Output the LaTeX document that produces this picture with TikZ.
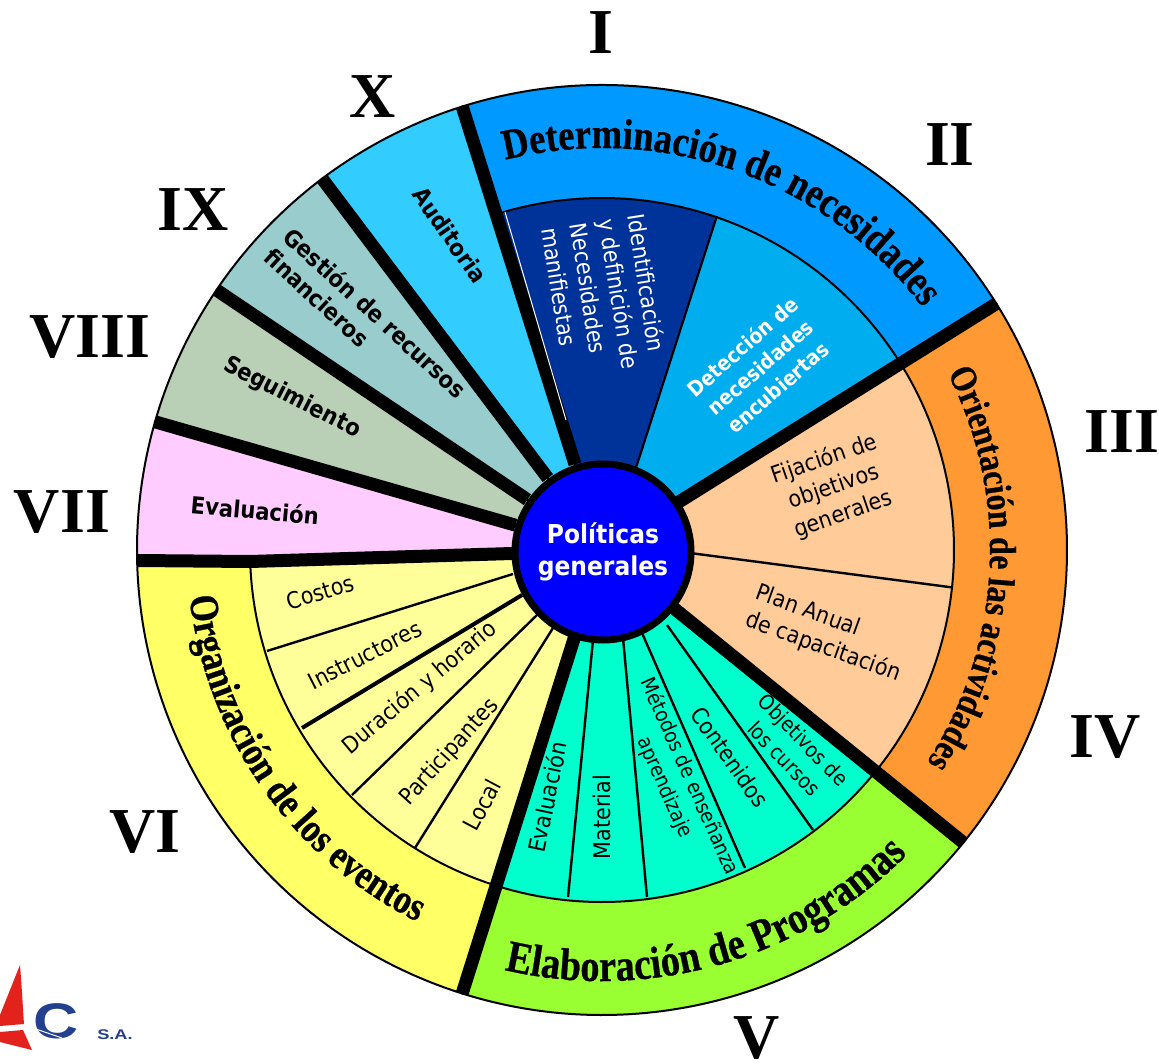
\documentclass[tikz,border=0pt]{standalone}
\usepackage{fontspec}
\usetikzlibrary{decorations.text}
\setmainfont{Liberation Serif}
\newfontfamily\labelfont{DejaVu Sans Condensed}
\newfontfamily\titlefont[FakeStretch=0.85, FakeBold=0.6]{Liberation Serif}
\tikzset{
    ring/.style={draw=black, line width=2pt},
    divider/.style={line width=13pt, line cap=butt},
    slice/.style={line width=2.4pt},
    numeral/.style={font=\fontsize{64}{64}\selectfont\bfseries},
    item/.style={font=\labelfont\fontsize{23}{29}\selectfont, align=center},
    bolditem/.style={font=\labelfont\bfseries\fontsize{23.5}{28}\selectfont, align=center},
    curved/.style 2 args={decorate, decoration={text along path, text align=center,
        text={|\titlefont\bfseries\fontsize{#1}{#1}\selectfont|#2}}},
}
\definecolor{ringI}{HTML}{0099FF}
\definecolor{deepblue}{HTML}{003399}
\definecolor{midblue}{HTML}{00AEEF}
\definecolor{ringIII}{HTML}{FF9933}
\definecolor{peach}{HTML}{FFCC99}
\definecolor{ringV}{HTML}{99FF33}
\definecolor{aqua}{HTML}{00FFCC}
\definecolor{ringVI}{HTML}{FFFF66}
\definecolor{paleyellow}{HTML}{FFFF99}
\definecolor{pink}{HTML}{FFCCFF}
\definecolor{sage}{HTML}{B9CFB6}
\definecolor{teal}{HTML}{99CCCC}
\definecolor{sky}{HTML}{33CCFF}
\definecolor{logored}{HTML}{E3231B}
\definecolor{logoblue}{HTML}{23408F}
\begin{document}
\begin{tikzpicture}[x=1pt, y=1pt]
                \useasboundingbox (-602,-513) rectangle (557,550);

                % outer ring
                \draw[ring, fill=ringI] (0,0) -- (107.5:465) arc[start angle=107.5, end angle=32, radius=465] -- cycle;
                \draw[ring, fill=ringIII] (0,0) -- (32:465) arc[start angle=32, end angle=-39, radius=465] -- cycle;
                \draw[ring, fill=ringV] (0,0) -- (-39:465) arc[start angle=-39, end angle=-107.5, radius=465] -- cycle;
                \draw[ring, fill=ringVI] (0,0) -- (252.5:465) arc[start angle=252.5, end angle=181.5, radius=465] -- cycle;
                \draw[ring, fill=pink] (0,0) -- (181.5:465) arc[start angle=181.5, end angle=164, radius=465] -- cycle;
                \draw[ring, fill=sage] (0,0) -- (164:465) arc[start angle=164, end angle=146, radius=465] -- cycle;
                \draw[ring, fill=teal] (0,0) -- (146:465) arc[start angle=146, end angle=127, radius=465] -- cycle;
                \draw[ring, fill=sky] (0,0) -- (127:465) arc[start angle=127, end angle=107.5, radius=465] -- cycle;

                % inner wedges
                \draw[ring, fill=deepblue] (0,0) -- (107.5:352) arc[start angle=107.5, end angle=71, radius=352] -- (35,85) -- cycle;
                \draw[ring, fill=midblue] (35,85) -- (71:352) arc[start angle=71, end angle=32, radius=352] -- (0,0) -- cycle;
                \draw[ring, fill=peach] (0,0) -- (32:352) arc[start angle=32, end angle=-39, radius=352] -- cycle;
                \draw[ring, fill=aqua] (0,0) -- (-39:352) arc[start angle=-39, end angle=-107.5, radius=352] -- cycle;
                \draw[ring, fill=paleyellow] (0,0) -- (252.5:352) arc[start angle=252.5, end angle=182, radius=352] -- cycle;

                % slices
                \draw[slice] (88,-3) -- (-6.1:352);
                \draw[slice] (-9,-90) -- (-34,-347);
                \draw[slice] (21,-88) -- (45,-347);
                \draw[slice] (40,-83) -- (143,-318);
                \draw[slice] (65,-75) -- (211,-280);
                \draw[slice] (-49,-78) -- (-187,-298);
                \draw[slice] (-65,-65) -- (-250,-245);
                \draw[slice, line width=4pt] (-80,-45) -- (-300,-178);
                \draw[slice] (-89,-24) -- (-335,-101);

                % thick dividers
                \draw[divider] (107.5:90) -- (107.5:465);
                \draw[white, line width=1pt] (-97,338) -- (-36,130);
                \draw[divider] (32:90) -- (32:465);
                \draw[divider] (-39:90) -- (-39:465);
                \draw[divider] (252.5:90) -- (252.5:465);
                \draw[divider] (-90,-3.5) -- (-352,-11.5) -- (-465,-10.5);
                \draw[divider] (164:90) -- (164:465);
                \draw[divider] (146:90) -- (146:465);
                \draw[divider] (127:90) -- (127:465);

                % curved titles
                \path[curved={43}{Determinación de necesidades}] (120.5:402) arc[start angle=120.5, end angle=20.5, radius=402];
                \path[curved={37.5}{Orientación de las actividades}] (42:388) arc[start angle=42, end angle=-48, radius=388];
                \path[curved={45}{Elaboración de Programas}] (-119:431) arc[start angle=-119, end angle=-29, radius=431];
                \path[curved={41}{Organización de los eventos}] (170:415) arc[start angle=170, end angle=260, radius=415];

                % centre
                \node[circle, draw=black, line width=7pt, fill=blue, minimum size=176pt, inner sep=0pt, text=white,
                      font=\labelfont\bfseries\fontsize{26}{32}\selectfont, align=center] (main) at (1,-2) {Políticas\\generales};

                % wedge labels
                \node[item, text=white, align=left, rotate=-81] (manifest) at (3,254) {Identificación\\y definición de\\Necesidades\\manifiestas};
                \node[bolditem, font=\labelfont\bfseries\fontsize{21}{27}\selectfont, text=white, rotate=41] (encub) at (158,183) {Detección de\\necesidades\\encubiertas};
                \node[item, rotate=19] (fijacion) at (232,63) {Fijación de\\objetivos\\generales};
                \node[item, align=left, rotate=-20] (plan) at (226,-84) {Plan Anual\\de capacitación};
                \node[item, font=\labelfont\fontsize{21}{27}\selectfont, rotate=-46] (objetivos) at (192,-199) {Objetivos de\\los cursos};
                \node[item, rotate=-55] (contenidos) at (128,-207) {Contenidos};
                \node[item, font=\labelfont\fontsize{20.5}{27}\selectfont, rotate=-66] (metodos) at (75,-232) {Métodos de enseñanza\\aprendizaje};
                \node[item, rotate=90] (material) at (0,-267) {Material};
                \node[item, rotate=78] (evalv) at (-55,-247) {Evaluación};
                \node[item, rotate=62] (local) at (-120,-255) {Local};
                \node[item, rotate=48] (partic) at (-152,-202) {Participantes};
                \node[item, rotate=40] (duracion) at (-182,-138) {Duración y horario};
                \node[item, rotate=27] (instruct) at (-237,-105) {Instructores};
                \node[item, rotate=17] (costos) at (-282,-42) {Costos};
                \node[bolditem, rotate=-5] (evalvii) at (-347,40) {Evaluación};
                \node[bolditem, rotate=-27] (seguim) at (-310,152) {Seguimiento};
                \node[bolditem, align=left, rotate=-42.5] (gestion) at (-236,227) {Gestión de recursos\\financieros};
                \node[bolditem, rotate=-55] (audit) at (-152,315) {Auditoria};

                % numerals
                \node[numeral] (nI) at (-1,517) {I};
                \node[numeral] (nII) at (348,405) {II};
                \node[numeral] (nIII) at (520,118) {III};
                \node[numeral] (nIV) at (503,-187) {IV};
                \node[numeral] (nV) at (155,-488) {V};
                \node[numeral] (nVI) at (-457,-282) {VI};
                \node[numeral] (nVII) at (-540,38) {VII};
                \node[numeral] (nVIII) at (-512,213) {VIII};
                \node[numeral] (nIX) at (-409,340) {IX};
                \node[numeral] (nX) at (-229,453) {X};

                % logo
                \fill[logored] (-602,-465) -- (-582,-415) .. controls (-580,-440) and (-579,-460) .. (-578,-474) -- (-602,-476) -- cycle;
                \fill[logored] (-602,-482) -- (-579,-480) -- (-570,-500) -- (-602,-492) -- cycle;
                \node[font=\fontspec{Liberation Sans}\bfseries\fontsize{50}{50}\selectfont, text=logoblue, xscale=1.25, inner sep=0pt] (logoC) at (-546,-471) {C};
                \draw[white, line width=1pt] (-569,-478) -- (-540,-488);
                \node[font=\fontspec{Liberation Sans}\bfseries\fontsize{14}{14}\selectfont, text=logoblue, xscale=1.3, inner sep=0pt] (logoSA) at (-487,-485) {S.A.};
            \end{tikzpicture}
\end{document}
